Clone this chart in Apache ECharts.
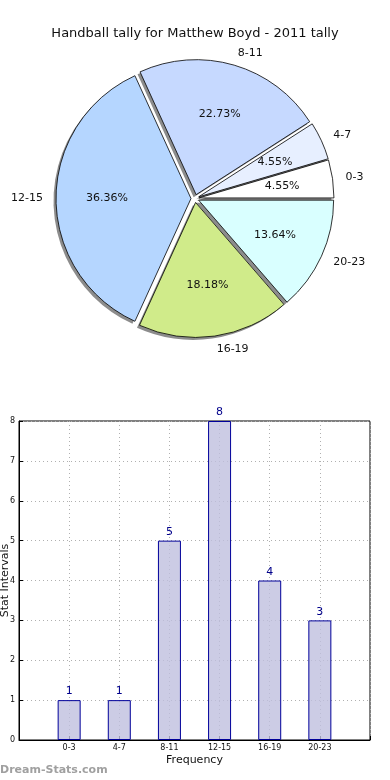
<!DOCTYPE html>
<html>
<head>
<meta charset="utf-8">
<script src="https://cdn.jsdelivr.net/npm/echarts@6/dist/echarts.min.js"></script>
<style>
html,body{margin:0;padding:0;background:#fff;}
#c{width:390px;height:780px;}
</style>
</head>
<body>
<div id="c"></div>
<script>
var titleText = 'Handball tally for Matthew Boyd - 2011 tally';
var categories = ['0-3', '4-7', '8-11', '12-15', '16-19', '20-23'];
var counts = [1, 1, 5, 8, 4, 3];
var sliceColors = ['#ffffff', '#e7efff', '#c6d9ff', '#b5d6ff', '#d0eb8a', '#d9ffff'];
var yTicks = [0, 1, 2, 3, 4, 5, 6, 7, 8];

var FONT = 'DejaVu Sans';
var CX = 195, CY = 198.5, R = 135, OFF = 4;
var total = counts.reduce(function (a, b) { return a + b; }, 0);

function pieData(colorFn) {
  return categories.map(function (c, i) {
    return { name: c, value: counts[i], selected: true, itemStyle: { color: colorFn(i) } };
  });
}

var chart = echarts.init(document.getElementById('c'), null, { renderer: 'canvas' });
chart.setOption({
  animation: false,
  title: {
    text: titleText, left: 'center', top: 22,
    textStyle: { fontFamily: FONT, fontSize: 13, fontWeight: 'normal', color: '#111' }
  },
  graphic: [{
    type: 'text', left: 0, top: 765,
    style: { text: 'Dream-Stats.com', fill: '#a0a0a0', font: 'bold 11px "DejaVu Sans"' }
  }],
  grid: {
    left: 19, right: 20, top: 421, bottom: 40,
    outerBoundsMode: 'none', containLabel: false,
    show: true, borderColor: '#000', borderWidth: 1, backgroundColor: 'transparent'
  },
  xAxis: {
    type: 'value', min: -1, max: 6, interval: 1,
    name: 'Frequency', nameLocation: 'middle', nameGap: 15, nameMoveOverlap: false,
    nameTextStyle: { fontFamily: FONT, fontSize: 11, color: '#111' },
    axisLine: { show: true, onZero: false, lineStyle: { color: '#000' } },
    axisTick: { show: true, inside: true, length: 4, lineStyle: { color: '#000' } },
    axisLabel: {
      fontFamily: FONT, fontSize: 8, color: '#111', margin: 4,
      formatter: function (v) { return categories[v] !== undefined ? categories[v] : ''; }
    },
    splitLine: { show: true, lineStyle: { type: [1, 3], color: '#b0b0b0', width: 1 } }
  },
  yAxis: {
    type: 'value', min: 0, max: 8, interval: 1,
    name: 'Stat Intervals', nameLocation: 'middle', nameGap: 8, nameMoveOverlap: false,
    nameTextStyle: { fontFamily: FONT, fontSize: 11, color: '#111' },
    axisLine: { show: true, onZero: false, lineStyle: { color: '#000' } },
    axisTick: { show: true, inside: true, length: 4, lineStyle: { color: '#000' } },
    axisLabel: {
      fontFamily: FONT, fontSize: 8, color: '#111', margin: 4,
      formatter: function (v) { return yTicks.indexOf(v) >= 0 ? String(v) : ''; }
    },
    splitLine: { show: true, lineStyle: { type: [1, 3], color: '#b0b0b0', width: 1 } }
  },
  series: [
    {
      type: 'bar',
      data: categories.map(function (c, i) { return [i, counts[i]]; }),
      barWidth: 23,
      z: 1,
      itemStyle: { color: 'rgba(191,191,223,0.8)', borderColor: '#00009a', borderWidth: 1 },
      label: {
        show: true, position: 'top', distance: 3,
        fontFamily: FONT, fontSize: 11, color: '#00008b',
        formatter: function (p) { return String(p.value[1]); }
      }
    },
    {
      type: 'pie', center: [CX - 2.5, CY + 2.5], radius: R,
      startAngle: 0, clockwise: false, selectedMode: 'multiple', selectedOffset: OFF,
      silent: true, label: { show: false }, labelLine: { show: false },
      itemStyle: { borderWidth: 0 },
      data: pieData(function () { return '#8c8c8c'; })
    },
    {
      type: 'pie', center: [CX, CY], radius: R,
      startAngle: 0, clockwise: false, selectedMode: 'multiple', selectedOffset: OFF,
      silent: true, avoidLabelOverlap: false,
      itemStyle: { borderColor: '#000', borderWidth: 0.8 },
      label: {
        show: true, position: 'outside', distanceToLabelLine: 0,
        fontFamily: FONT, fontSize: 11, color: '#111', formatter: '{b}'
      },
      labelLine: { show: false, length: 13, length2: 0 },
      data: pieData(function (i) { return sliceColors[i]; })
    },
    {
      type: 'pie', center: [CX, CY], radius: R * 1.2,
      startAngle: 0, clockwise: false, selectedMode: 'multiple', selectedOffset: OFF,
      silent: true,
      itemStyle: { borderWidth: 0 },
      label: {
        show: true, position: 'inside', rotate: 0,
        fontFamily: FONT, fontSize: 11, color: '#111',
        formatter: function (p) { return (p.value / total * 100).toFixed(2) + '%'; }
      },
      labelLine: { show: false },
      data: pieData(function () { return 'rgba(0,0,0,0)'; })
    }
  ]
});
</script>
</body>
</html>
